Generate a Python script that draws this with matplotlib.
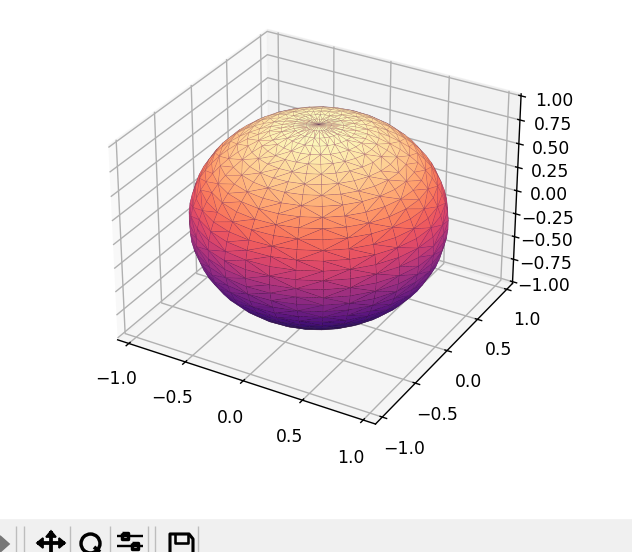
import numpy as np
import matplotlib
matplotlib.use("Agg")
import matplotlib.pyplot as plt
from matplotlib.patches import Rectangle, Polygon
from matplotlib.lines import Line2D
from matplotlib.tri import Triangulation

FIG_W, FIG_H = 632, 552
DPI = 124
theta_steps = 32
phi_steps = 34
radius_xy = 0.967
radius_z = 0.965
xy_limit = 1.10
z_limit = 1.02
x_ticks = [-1.0, -0.5, 0.0, 0.5, 1.0]
y_ticks = [-1.0, -0.5, 0.0, 0.5, 1.0]
z_ticks = [-1.0, -0.75, -0.5, -0.25, 0.0, 0.25, 0.5, 0.75, 1.0]

theta = np.linspace(0, 2 * np.pi, theta_steps)
phi = np.linspace(0, np.pi, phi_steps)
tt, pp = np.meshgrid(theta, phi)
tt, pp = tt.ravel(), pp.ravel()
xs = radius_xy * np.sin(pp) * np.cos(tt)
ys = radius_xy * np.sin(pp) * np.sin(tt)
zs = radius_z * np.cos(pp)
tri = Triangulation(tt, pp)

fig = plt.figure(figsize=(FIG_W / DPI, FIG_H / DPI), dpi=DPI)
ax = fig.add_axes([5 / FIG_W, 1 - 453 / FIG_H, 615 / FIG_W, 459 / FIG_H], projection="3d")
surf = ax.plot_trisurf(xs, ys, zs, triangles=tri.triangles, cmap="magma", linewidth=0.3,
                       antialiased=True)
surf.set_alpha(None)
surf.set_edgecolor((0.3, 0.1, 0.3, 0.2))
ax.set_xlim(-xy_limit, xy_limit)
ax.set_ylim(-xy_limit, xy_limit)
ax.set_zlim(-z_limit, z_limit)
ax.set_xticks(x_ticks)
ax.set_yticks(y_ticks)
ax.set_zticks(z_ticks)

# toolbar, in pixel coordinates measured from the top left
def px(x, y):
    return (x / FIG_W, 1 - y / FIG_H)

def add_line(pts, lw=2.2, color="black"):
    fig.add_artist(Line2D([px(*p)[0] for p in pts], [px(*p)[1] for p in pts],
                          transform=fig.transFigure, color=color, lw=lw, solid_capstyle="butt"))

fig.add_artist(Rectangle((0, 0), 1, 32 / FIG_H, transform=fig.transFigure, color="#f0f0f0", zorder=-1))
for sep in [16, 24, 70, 110, 148, 155, 198]:
    add_line([(sep, 526), (sep, 552)], lw=0.8, color="#bdbdbd")
# pan
add_line([(37, 543), (65, 543)])
add_line([(51, 531), (51, 552)])
fig.add_artist(Polygon([px(51, 531), px(46, 537), px(56, 537)], transform=fig.transFigure, color="black"))
fig.add_artist(Polygon([px(37, 543), px(43, 538), px(43, 548)], transform=fig.transFigure, color="black"))
fig.add_artist(Polygon([px(65, 543), px(59, 538), px(59, 548)], transform=fig.transFigure, color="black"))
# zoom
fig.add_artist(Line2D([px(90, 543)[0]], [px(90, 543)[1]], marker="o", ms=11, mfc="none", mec="black",
                      mew=2.0, transform=fig.transFigure))
add_line([(94, 547), (100, 552)], lw=2.2)
# configure
add_line([(117, 536), (143, 536)], lw=1.4)
add_line([(117, 546), (143, 546)], lw=1.4)
add_line([(122, 533), (128, 533), (128, 539), (122, 539), (122, 533)], lw=2.0)
add_line([(132, 543), (138, 543), (138, 549), (132, 549), (132, 543)], lw=2.0)
# save
add_line([(170, 552), (170, 534), (189, 534), (193, 539), (193, 552)], lw=1.8)
add_line([(175, 534), (175, 543), (188, 543), (188, 534)], lw=1.5)
# partly hidden icon at the left edge
fig.add_artist(Polygon([px(0, 536), px(9, 544), px(0, 552)], transform=fig.transFigure, color="#777777"))

fig.savefig("out.png", dpi=DPI)
